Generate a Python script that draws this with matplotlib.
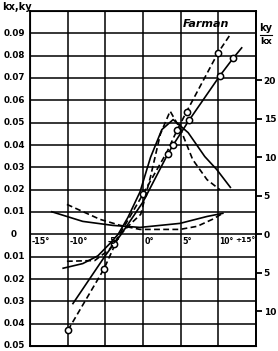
import numpy as np
import matplotlib
matplotlib.use("Agg")
import matplotlib.pyplot as plt

plt.rcParams["font.family"] = ["Liberation Sans Narrow", "DejaVu Sans"]

# angle of attack (deg) and coefficients
ky_solid_x = [-9.3, -5.0, -3.9, -2.9, 0.0, 3.3, 4.0, 6.1, 10.2, 12.0, 13.1]
ky_solid_y = [-0.031, -0.0095, -0.0045, 0.0, 0.0145, 0.036, 0.040, 0.051, 0.071, 0.079, 0.0835]
ky_solid_pts = [2, 5, 6, 7, 8, 9]

ky_dash_x = [-9.96, -5.18, -3.1, 0.0, 3.2, 4.5, 5.8, 9.96, 11.55]
ky_dash_y = [-0.0429, -0.0155, 0.0, 0.018, 0.037, 0.0465, 0.055, 0.0813, 0.0893]
ky_dash_pts = [0, 1, 3, 5, 6, 7]

kx_solid_x = [-12.1, -8.0, -4.0, -0.4, 4.9, 8.5, 10.6]
kx_solid_y = [0.0101, 0.0058, 0.0040, 0.0031, 0.0049, 0.0080, 0.0094]

kx_dash_x = [-10.1, -5.7, -3.0, -0.4, 4.9, 7.2, 9.2, 10.6]
kx_dash_y = [0.0134, 0.0067, 0.0040, 0.0022, 0.0022, 0.0036, 0.0067, 0.0094]

ratio_solid_x = [-10.6, -8.0, -6.0, -4.5, -3.3, -2.0, -0.4, 1.0, 2.5, 4.0, 6.0, 8.2, 9.8, 11.6]
ratio_solid_y = [-4.4, -3.8, -2.8, -1.3, 0.0, 2.2, 5.5, 10.0, 13.6, 14.9, 13.2, 10.1, 8.4, 6.1]

ratio_dash_x = [-10.1, -6.4, -4.5, -3.0, -1.5, -0.3, 1.0, 2.3, 3.6, 5.0, 6.6, 8.5, 10.2]
ratio_dash_y = [-3.5, -3.4, -2.0, 0.0, 1.5, 2.6, 7.5, 13.0, 16.0, 13.6, 9.7, 7.1, 5.8]

x_ticks = [-15, -10, -5, 0, 5, 10, 15]
x_labels = ["-15°", "-10°", "-5°", "0°", "5°", "10°", "+15°"]
k_ticks = [-0.05, -0.04, -0.03, -0.02, -0.01, 0, 0.01, 0.02, 0.03, 0.04, 0.05, 0.06, 0.07, 0.08, 0.09]
k_labels = ["0.05", "0.04", "0.03", "0.02", "0.01", "0", "0.01", "0.02", "0.03", "0.04", "0.05",
            "0.06", "0.07", "0.08", "0.09"]
r_ticks = [-10, -5, 0, 5, 10, 15, 20]
r_labels = ["10", "5", "0", "5", "10", "15", "20"]

scale = 0.003448  # one unit of ky/kx in kx,ky units

fig = plt.figure(figsize=(2.78, 3.51), dpi=100)
ax = fig.add_axes([30 / 278, 1 - 346 / 351, 226 / 278, 335 / 351])
ax.set_xlim(-15, 15)
ax.set_ylim(-0.05, 0.10)
ax.set_xticks(x_ticks)
ax.set_yticks(np.arange(-0.05, 0.1001, 0.01))
ax.grid(True, color="black", lw=1.1)
ax.tick_params(length=0, labelbottom=False, labelleft=False)
for s in ax.spines.values():
    s.set_linewidth(1.3)

ax2 = ax.twinx()
ax2.set_ylim(-0.05 / scale, 0.10 / scale)
ax2.set_yticks(r_ticks)
ax2.set_yticklabels(r_labels, fontsize=6.5, fontweight="bold")
ax2.tick_params(axis="y", direction="out", length=4, width=1.3, pad=1.5)
ax2.spines["right"].set_linewidth(1.3)

dash = (0, (3.5, 2))
lw = 1.2
ax.plot(ky_solid_x, ky_solid_y, color="black", lw=lw)
ax.plot(ky_dash_x, ky_dash_y, color="black", lw=lw, ls=dash)
ax.plot([ky_solid_x[i] for i in ky_solid_pts], [ky_solid_y[i] for i in ky_solid_pts], "o",
        ms=4.5, mfc="white", mec="black", mew=1.1)
ax.plot([ky_dash_x[i] for i in ky_dash_pts], [ky_dash_y[i] for i in ky_dash_pts], "o",
        ms=4.5, mfc="white", mec="black", mew=1.1)

ax.plot(kx_solid_x, kx_solid_y, color="black", lw=lw)
ax.plot(kx_dash_x, kx_dash_y, color="black", lw=lw, ls=dash)

ax2.plot(ratio_solid_x, ratio_solid_y, color="black", lw=lw)
ax2.plot(ratio_dash_x, ratio_dash_y, color="black", lw=lw, ls=dash)

# hand-placed labels
ytr = ax.get_yaxis_transform()
for v, lab in zip(k_ticks, k_labels):
    ax.text(-0.071, v, lab, transform=ytr, ha="center", va="center", fontsize=6.3, fontweight="bold")
fig.text(2 / 278, 1 - 2 / 351, "kx,ky", ha="left", va="top", fontsize=7, fontweight="bold")

for v, lab in zip(x_ticks, x_labels):
    if v == 15:
        ax.text(v - 0.1, -0.0012, lab, ha="right", va="top", fontsize=5.3, fontweight="bold")
    elif v == 10:
        ax.text(v + 0.15, -0.0012, lab, ha="left", va="top", fontsize=5.5, fontweight="bold")
    else:
        ax.text(v + 0.25, -0.0012, lab, ha="left", va="top", fontsize=5.8, fontweight="bold")

ax.text(0.78, 0.962, "Farman", transform=ax.transAxes, ha="center", va="center",
        fontsize=8, fontstyle="italic", fontweight="bold", family=["DejaVu Sans"])

fx = 1.044
ax.text(fx, 0.934, "ky", transform=ax.transAxes, ha="center", va="bottom", fontsize=7, fontweight="bold")
ax.text(fx, 0.922, "kx", transform=ax.transAxes, ha="center", va="top", fontsize=6.5, fontweight="bold")
ax.plot([fx - 0.028, fx + 0.028], [0.929, 0.929], transform=ax.transAxes, color="black",
        lw=0.8, clip_on=False)

fig.savefig("out.png", dpi=100, facecolor="white")
